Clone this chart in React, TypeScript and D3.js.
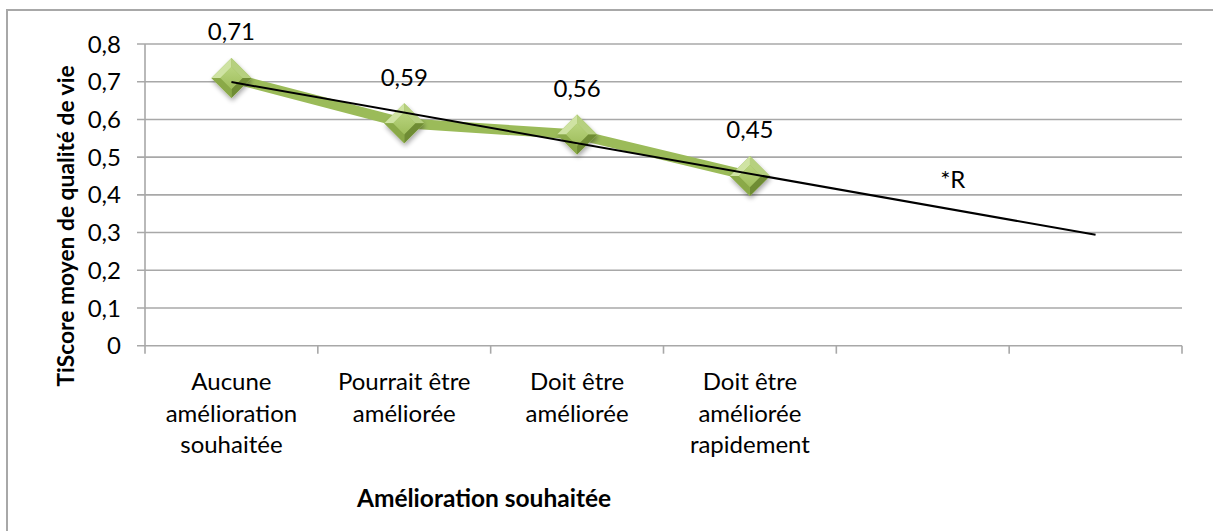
import React from "react";
import * as d3 from "d3";

const categories = [
  "Aucune\namélioration\nsouhaitée",
  "Pourrait être\naméliorée",
  "Doit être\naméliorée",
  "Doit être\naméliorée\nrapidement",
  "",
  "",
];
const values = [0.71, 0.59, 0.56, 0.45];
const yTicks = [0, 0.1, 0.2, 0.3, 0.4, 0.5, 0.6, 0.7, 0.8];
const yTitle = "TiScore moyen de qualité de vie";
const xTitle = "Amélioration souhaitée";
const trendLabel = "*R";

const W = 1213;
const H = 531;
const FONT = "Lato, 'Open Sans', sans-serif";
const GRID = "#a8a8a8";
const GREEN = "#9bbb59";

const fr = d3.formatLocale({ decimal: ",", thousands: " ", grouping: [3], currency: ["", "€"] });
const fmtTick = (v: number) => (v === 0 ? "0" : fr.format(".1f")(v));
const fmtVal = fr.format(".2f");

export default function App() {
  const x = d3
    .scaleBand<number>()
    .domain(categories.map((_, i) => i))
    .range([145, 1182])
    .padding(0);
  const cx = (i: number) => (x(i) as number) + x.bandwidth() / 2;
  const y = d3.scaleLinear().domain([0, 0.8]).range([345.7, 44]);

  // linear trend (least squares) over the series, forecast to the last category
  const mx = d3.mean(values.map((_, i) => i)) as number;
  const my = d3.mean(values) as number;
  const slope =
    d3.sum(values.map((v, i) => (i - mx) * (v - my))) /
    d3.sum(values.map((_, i) => (i - mx) * (i - mx)));
  const intercept = my - slope * mx;
  const lastIdx = categories.length - 1;
  const trendPts: [number, number][] = [0, lastIdx].map((i) => [cx(i), y(intercept + slope * i)]);

  const line = d3
    .line<number>()
    .x((_, i) => cx(i))
    .y((d) => y(d));

  const r = 20;
  const ri = 11;
  const diamond = (px: number, py: number) => {
    const o = [
      [px, py - r],
      [px + r, py],
      [px, py + r],
      [px - r, py],
    ];
    const ii = [
      [px, py - ri],
      [px + ri, py],
      [px, py + ri],
      [px - ri, py],
    ];
    const quad = (a: number, b: number) =>
      `M${o[a][0]},${o[a][1]}L${o[b][0]},${o[b][1]}L${ii[b][0]},${ii[b][1]}L${ii[a][0]},${ii[a][1]}Z`;
    return { o, ii, quad };
  };

  return (
    <div style={{ position: "fixed", left: 0, top: 0 }}>
      <svg width={W} height={H} style={{ display: "block", background: "#fff" }} fontFamily={FONT}>
        <defs>
          <filter id="sh" x="-50%" y="-50%" width="200%" height="200%">
            <feGaussianBlur in="SourceAlpha" stdDeviation="2.5" />
            <feOffset dx="1" dy="3" result="b" />
            <feComponentTransfer>
              <feFuncA type="linear" slope="0.35" />
            </feComponentTransfer>
            <feMerge>
              <feMergeNode />
              <feMergeNode in="SourceGraphic" />
            </feMerge>
          </filter>
          <linearGradient id="inner" x1="0" y1="0" x2="0" y2="1">
            <stop offset="0" stopColor="#b9d47f" />
            <stop offset="1" stopColor="#9fbe5c" />
          </linearGradient>
        </defs>

        {/* chart border */}
        <rect x={7} y={10} width={W + 20} height={H + 20} fill="none" stroke={GRID} strokeWidth={2} />

        {/* gridlines & y ticks */}
        {yTicks.map((t) => (
          <g key={t}>
            <line x1={137} x2={1182} y1={y(t)} y2={y(t)} stroke={GRID} strokeWidth={1.6} />
            <text x={121} y={y(t)} dy="0.36em" textAnchor="end" fontSize={24} fill="#000">
              {fmtTick(t)}
            </text>
          </g>
        ))}
        {/* y axis */}
        <line x1={145} x2={145} y1={y(0.8)} y2={y(0)} stroke={GRID} strokeWidth={1.6} />
        {/* x ticks */}
        {categories.map((_, i) => (
          <line key={i} x1={x(i)} x2={x(i)} y1={y(0)} y2={y(0) + 8} stroke={GRID} strokeWidth={1.6} />
        ))}
        <line x1={1182} x2={1182} y1={y(0)} y2={y(0) + 8} stroke={GRID} strokeWidth={1.6} />

        {/* category labels */}
        {categories.map((c, i) => (
          <text key={i} textAnchor="middle" fontSize={24} fill="#000">
            {c.split("\n").map((ln, j) => (
              <tspan key={j} x={cx(i)} y={390 + j * 31.5}>
                {ln}
              </tspan>
            ))}
          </text>
        ))}

        {/* data line */}
        <path d={line(values) as string} fill="none" stroke={GREEN} strokeWidth={10} strokeLinejoin="round" />

        {/* markers */}
        {values.map((v, i) => {
          const px = cx(i);
          const py = y(v);
          const dm = diamond(px, py);
          return (
            <g key={i}>
              <g filter="url(#sh)">
                <path d={`M${dm.o.map((p) => p.join(",")).join("L")}Z`} fill="#9bbb59" />
              </g>
              <path d={dm.quad(3, 0)} fill="#cfe3a3" />
              <path d={dm.quad(0, 1)} fill="#b6d07f" />
              <path d={dm.quad(1, 2)} fill="#6f8c34" />
              <path d={dm.quad(2, 3)} fill="#8aa948" />
              <path d={`M${dm.ii.map((p) => p.join(",")).join("L")}Z`} fill="url(#inner)" />
            </g>
          );
        })}

        {/* trend line */}
        <line
          x1={trendPts[0][0]}
          y1={trendPts[0][1]}
          x2={trendPts[1][0]}
          y2={trendPts[1][1]}
          stroke="#000"
          strokeWidth={2}
        />

        {/* data labels */}
        {values.map((v, i) => (
          <text key={i} x={cx(i)} y={y(v) - 37.5} textAnchor="middle" fontSize={24} fill="#000">
            {fmtVal(v)}
          </text>
        ))}

        {/* trendline label */}
        <text x={cx(4) + 30} y={188} textAnchor="middle" fontSize={24} fill="#000">
          {trendLabel}
        </text>

        {/* axis titles */}
        <text
          transform={`translate(74,226) rotate(-90)`}
          textAnchor="middle"
          fontSize={22.8}
          fontWeight="bold"
          fill="#000"
        >
          {yTitle}
        </text>
        <text x={484} y={507} textAnchor="middle" fontSize={24.5} fontWeight="bold" fill="#000">
          {xTitle}
        </text>
      </svg>
    </div>
  );
}
